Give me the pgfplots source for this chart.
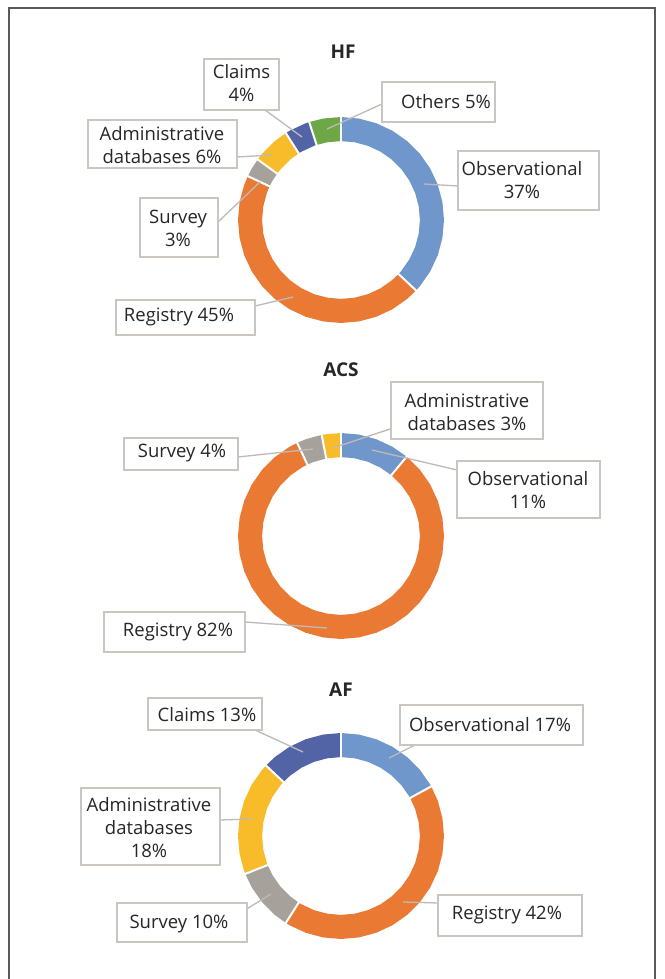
\documentclass[border=0pt]{standalone}
\usepackage{fontspec}
\setmainfont{Open Sans}
\usepackage{pgfplots}
\pgfplotsset{compat=1.18}
\usepgfplotslibrary{polar}
\definecolor{cobs}{HTML}{7097CB}
\definecolor{creg}{HTML}{EA7A33}
\definecolor{csur}{HTML}{A7A19C}
\definecolor{cadm}{HTML}{F8BB2A}
\definecolor{ccla}{HTML}{5364A6}
\definecolor{coth}{HTML}{6EA846}
\definecolor{txt}{HTML}{262626}
\definecolor{boxc}{HTML}{C9C5C1}
\definecolor{leadc}{HTML}{BDBAB7}
\definecolor{framec}{HTML}{5A5A5A}
\pgfplotsset{donut/.style={width=206pt,height=206pt,scale only axis,hide axis,
  xmin=0,xmax=360,ymin=0,ymax=1,clip=false,anchor=center},
  ring/.style={line width=24pt,mark=none},
  sep/.style={draw=white,line width=2pt,mark=none}}
\tikzset{lab/.style={font=\fontsize{18.5}{23}\selectfont,text=txt,align=center,inner sep=0pt},
  ttl/.style={font=\bfseries\fontsize{19}{23}\selectfont,text=txt,inner sep=0pt},
  bx/.style={draw=boxc,line width=1.3pt,fill=white},
  ld/.style={draw=leadc,line width=1.3pt}}
\begin{document}
\begin{tikzpicture}[x=1pt,y=1pt]
\path[use as bounding box] (0,0) rectangle (664,979);
\fill[white] (0,0) rectangle (664,979);
\draw[framec,line width=1.5pt] (9,0) -- (9,971) -- (655,971) -- (655,0);
% ---------------- HF: Observational 37, Registry 45, Survey 3, Administrative 6, Claims 4, Others 5
\begin{polaraxis}[donut,at={(341pt,759pt)}]
\addplot[ring,draw=cobs] coordinates {(90,0.883) (80,0.883) (70,0.883) (60,0.883) (50,0.883) (40,0.883) (30,0.883) (20,0.883) (10,0.883) (0,0.883) (-10,0.883) (-20,0.883) (-30,0.883) (-40,0.883) (-43.2,0.883)};
\addplot[ring,draw=creg] coordinates {(-43.2,0.883) (-50,0.883) (-60,0.883) (-70,0.883) (-80,0.883) (-90,0.883) (-100,0.883) (-110,0.883) (-120,0.883) (-130,0.883) (-140,0.883) (-150,0.883) (-160,0.883) (-170,0.883) (-180,0.883) (-190,0.883) (-200,0.883) (-205.2,0.883)};
\addplot[ring,draw=csur] coordinates {(-205.2,0.883) (-210,0.883) (-216,0.883)};
\addplot[ring,draw=cadm] coordinates {(-216,0.883) (-220,0.883) (-230,0.883) (-237.6,0.883)};
\addplot[ring,draw=ccla] coordinates {(-237.6,0.883) (-240,0.883) (-250,0.883) (-252,0.883)};
\addplot[ring,draw=coth] coordinates {(-252,0.883) (-260,0.883) (-270,0.883)};
\addplot[sep] coordinates {(90,0.75) (90,1.02)};
\addplot[sep] coordinates {(-43.2,0.75) (-43.2,1.02)};
\addplot[sep] coordinates {(-205.2,0.75) (-205.2,1.02)};
\addplot[sep] coordinates {(-216,0.75) (-216,1.02)};
\addplot[sep] coordinates {(-237.6,0.75) (-237.6,1.02)};
\addplot[sep] coordinates {(-252,0.75) (-252,1.02)};
\end{polaraxis}
% ---------------- ACS: Observational 11, Registry 82, Survey 4, Administrative 3
\begin{polaraxis}[donut,at={(341pt,443pt)}]
\addplot[ring,draw=cobs] coordinates {(90,0.883) (80,0.883) (70,0.883) (60,0.883) (50.4,0.883)};
\addplot[ring,draw=creg] coordinates {(50.4,0.883) (40,0.883) (30,0.883) (20,0.883) (10,0.883) (0,0.883) (-10,0.883) (-20,0.883) (-30,0.883) (-40,0.883) (-50,0.883) (-60,0.883) (-70,0.883) (-80,0.883) (-90,0.883) (-100,0.883) (-110,0.883) (-120,0.883) (-130,0.883) (-140,0.883) (-150,0.883) (-160,0.883) (-170,0.883) (-180,0.883) (-190,0.883) (-200,0.883) (-210,0.883) (-220,0.883) (-230,0.883) (-240,0.883) (-244.8,0.883)};
\addplot[ring,draw=csur] coordinates {(-244.8,0.883) (-250,0.883) (-259.2,0.883)};
\addplot[ring,draw=cadm] coordinates {(-259.2,0.883) (-260,0.883) (-270,0.883)};
\addplot[sep] coordinates {(90,0.75) (90,1.02)};
\addplot[sep] coordinates {(50.4,0.75) (50.4,1.02)};
\addplot[sep] coordinates {(-244.8,0.75) (-244.8,1.02)};
\addplot[sep] coordinates {(-259.2,0.75) (-259.2,1.02)};
\end{polaraxis}
% ---------------- AF: Observational 17, Registry 42, Survey 10, Administrative 18, Claims 13
\begin{polaraxis}[donut,at={(341pt,143pt)}]
\addplot[ring,draw=cobs] coordinates {(90,0.883) (80,0.883) (70,0.883) (60,0.883) (50,0.883) (40,0.883) (30,0.883) (28.8,0.883)};
\addplot[ring,draw=creg] coordinates {(28.8,0.883) (20,0.883) (10,0.883) (0,0.883) (-10,0.883) (-20,0.883) (-30,0.883) (-40,0.883) (-50,0.883) (-60,0.883) (-70,0.883) (-80,0.883) (-90,0.883) (-100,0.883) (-110,0.883) (-120,0.883) (-122.4,0.883)};
\addplot[ring,draw=csur] coordinates {(-122.4,0.883) (-130,0.883) (-140,0.883) (-150,0.883) (-158.4,0.883)};
\addplot[ring,draw=cadm] coordinates {(-158.4,0.883) (-160,0.883) (-170,0.883) (-180,0.883) (-190,0.883) (-200,0.883) (-210,0.883) (-220,0.883) (-223.2,0.883)};
\addplot[ring,draw=ccla] coordinates {(-223.2,0.883) (-230,0.883) (-240,0.883) (-250,0.883) (-260,0.883) (-270,0.883)};
\addplot[sep] coordinates {(90,0.75) (90,1.02)};
\addplot[sep] coordinates {(28.8,0.75) (28.8,1.02)};
\addplot[sep] coordinates {(-122.4,0.75) (-122.4,1.02)};
\addplot[sep] coordinates {(-158.4,0.75) (-158.4,1.02)};
\addplot[sep] coordinates {(-223.2,0.75) (-223.2,1.02)};
\end{polaraxis}
% ---------------- titles
\node[ttl] at (343,927) {HF};
\node[ttl] at (341,609) {ACS};
\node[ttl] at (341,289) {AF};
% ---------------- HF labels
\draw[ld] (265,869) -- (302,842);
\draw[ld] (382,875) -- (327,850);
\draw[ld] (458,793) -- (424,795);
\draw[ld] (237,822) -- (272,824);
\draw[ld] (218,757) -- (260,797);
\draw[ld] (255,673) -- (293,682);
\draw[bx] (204,869) rectangle (279,920); \node[lab] at (241.5,895.5) {Claims\\4\%};
\draw[bx] (382,857) rectangle (495,897); \node[lab] at (446,877) {Others 5\%};
\draw[bx] (458,769) rectangle (599,828); \node[lab] at (522,798.5) {Observational\\37\%};
\draw[bx] (88,811) rectangle (237,859); \node[lab] at (162,834) {Administrative\\databases 6\%};
\draw[bx] (140,722) rectangle (218,781); \node[lab] at (178,751) {Survey\\3\%};
\draw[bx] (116,644) rectangle (255,679); \node[lab] at (179,662) {Registry 45\%};
% ---------------- ACS labels
\draw[ld] (393,551) -- (333,531);
\draw[ld] (238,522) -- (313,530);
\draw[ld] (457,509) -- (372,529);
\draw[ld] (245,357) -- (327,351);
\draw[bx] (391,540) rectangle (543,597); \node[lab] at (467,567) {Administrative\\databases 3\%};
\draw[bx] (124,509) rectangle (238,541); \node[lab] at (182,526) {Survey 4\%};
\draw[bx] (457,461) rectangle (600,518); \node[lab] at (528,489) {Observational\\11\%};
\draw[bx] (104,327) rectangle (245,367); \node[lab] at (178,347) {Registry 82\%};
% ---------------- AF labels
\draw[ld] (255,249) -- (303,227);
\draw[ld] (415,234) -- (389,221);
\draw[ld] (220,159) -- (252,160);
\draw[ld] (245,69) -- (271,85);
\draw[ld] (438,76) -- (403,77);
\draw[bx] (148,249) rectangle (262,281); \node[lab] at (207,264) {Claims 13\%};
\draw[bx] (400,234) rectangle (583,274); \node[lab] at (490,254) {Observational 17\%};
\draw[bx] (81,114) rectangle (220,191); \node[lab] at (149,151) {Administrative\\databases\\18\%};
\draw[bx] (117,37) rectangle (247,76); \node[lab] at (179,55) {Survey 10\%};
\draw[bx] (438,43) rectangle (582,84); \node[lab] at (507,64) {Registry 42\%};
\end{tikzpicture}
\end{document}
